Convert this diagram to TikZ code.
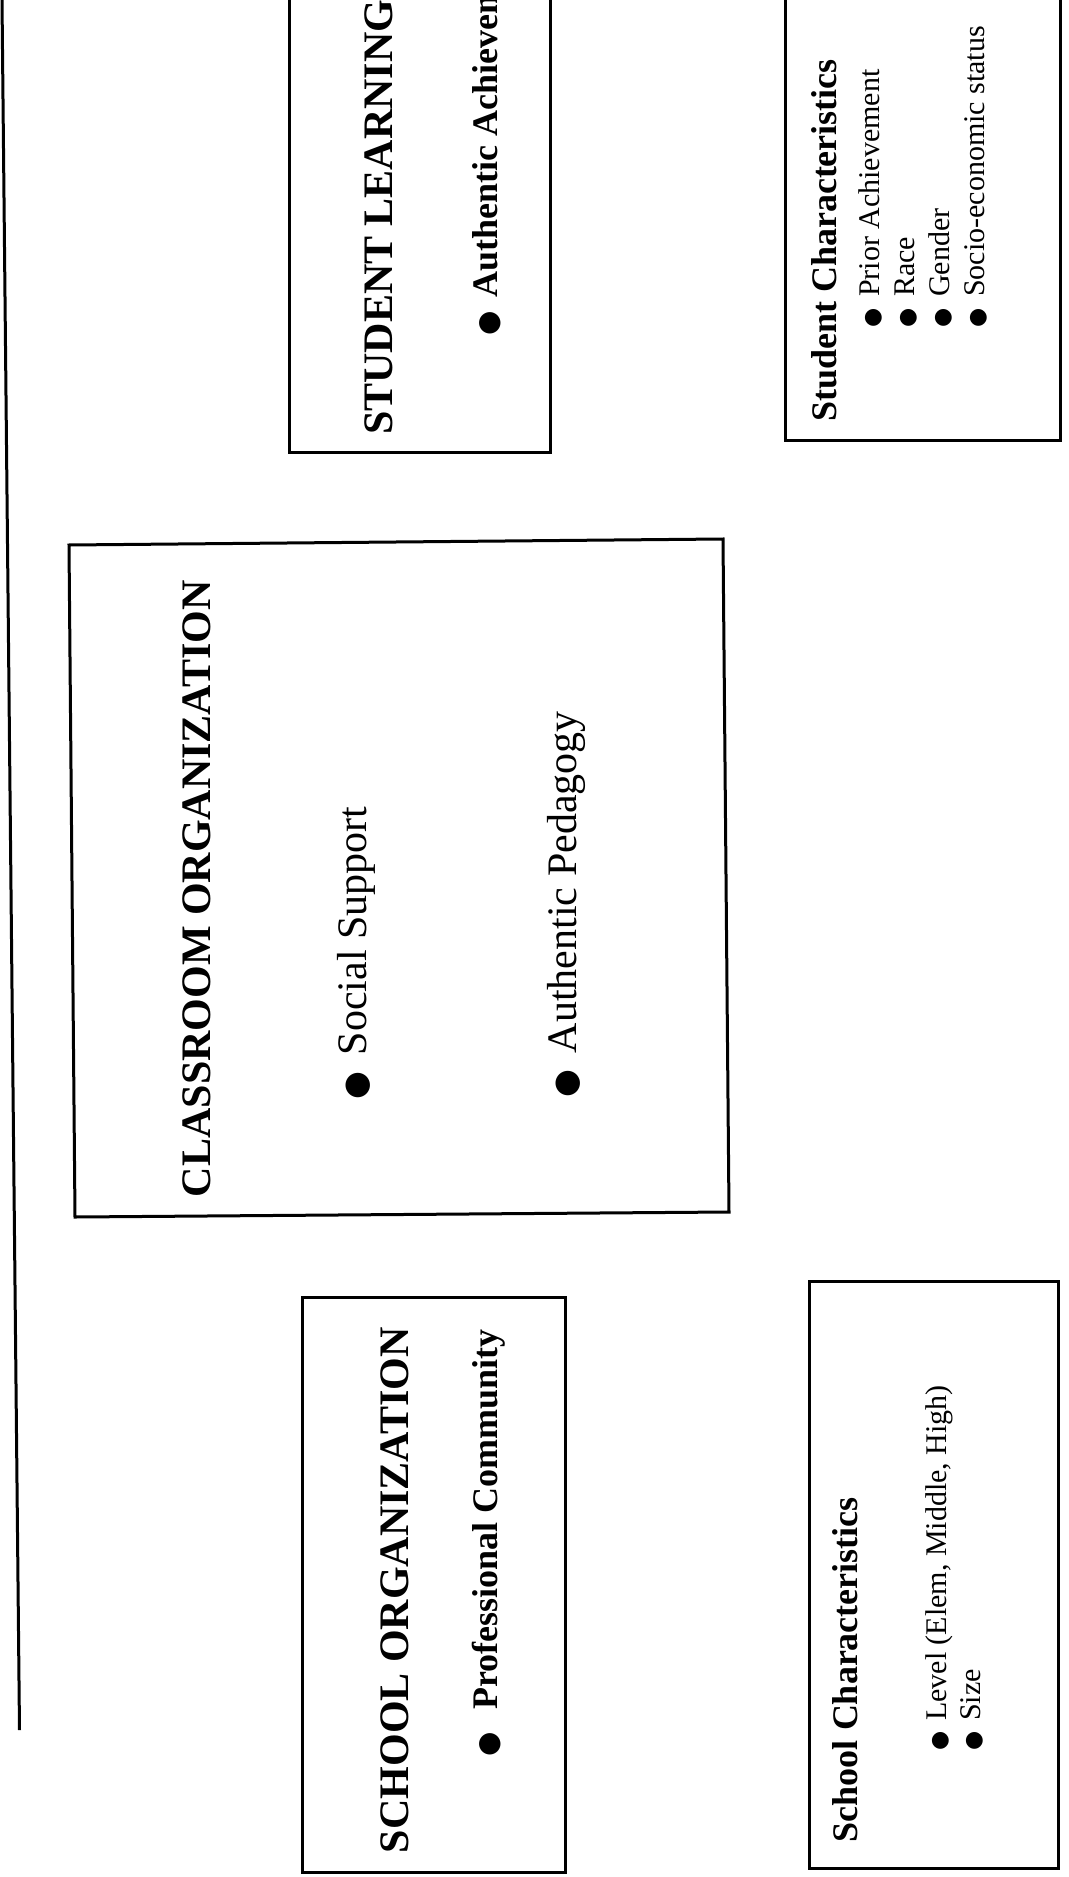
\documentclass[tikz,border=0pt]{standalone}
\usepackage{fontspec}
\setmainfont{Liberation Serif}
\newfontfamily\symf{DejaVu Sans}
\newcommand{\bul}[1]{{\symf\fontsize{#1}{#1}\selectfont ●}}
\tikzset{
  frame/.style={draw=black, line width=1.5pt},
  rt/.style={rotate=90, anchor=base west, inner sep=0pt, outer sep=0pt},
  ttl/.style={rt, font=\bfseries\fontsize{21}{25}\selectfont},
  bitem/.style={rt, font=\bfseries\fontsize{18}{21}\selectfont},
  ritem/.style={rt, font=\fontsize{21}{25}\selectfont},
  sttl/.style={rt, font=\bfseries\fontsize{18}{21}\selectfont},
  sitem/.style={rt, font=\fontsize{15}{18}\selectfont},
}
\begin{document}
\begin{tikzpicture}[x=0.5pt, y=-0.5pt]
\useasboundingbox (0,0) rectangle (1069,1877);
\clip (0,0) rectangle (1069,1877);
\fill[white] (0,0) rectangle (1069,1877);

% left rule
\coordinate (ltop) at (2,0);
\coordinate (lbot) at (19.5,1730);
\draw[line width=1.5pt] (ltop) -- (lbot);

% boxes
\draw[frame] (289,-10) rectangle (550,453);
\draw[frame] (785,-10) rectangle (1060,441);
\draw[frame] (69,545) -- (723,539) -- (729,1212) -- (75,1217) -- cycle;
\draw[frame] (302,1297) rectangle (565,1872);
\draw[frame] (809,1281) rectangle (1058,1868);

% student learning
\node[ttl] (slt) at (392,435) {STUDENT LEARNING};
\node[bitem] (sli) at (497,336) {\bul{14}\hspace{7pt}Authentic Achievement};

% student characteristics
\node[sttl] (sct) at (836,422) {Student Characteristics};
\node[sitem] (sc1) at (879,328) {\bul{11}\hspace{6pt}Prior Achievement};
\node[sitem] (sc2) at (914,328) {\bul{11}\hspace{6pt}Race};
\node[sitem] (sc3) at (949,328) {\bul{11}\hspace{6pt}Gender};
\node[sitem] (sc4) at (984,328) {\bul{11}\hspace{6pt}Socio-economic status};

% classroom organization
\node[ttl] (cot) at (210,1197) {CLASSROOM ORGANIZATION};
\node[ritem] (co1) at (366,1099) {\bul{16}\hspace{8pt}Social Support};
\node[ritem] (co2) at (576,1097) {\bul{16}\hspace{8pt}Authentic Pedagogy};

% school organization
\node[ttl] (sot) at (408,1853) {SCHOOL ORGANIZATION};
\node[bitem] (soi) at (497,1756) {\bul{14}\hspace{11pt}Professional Community};

% school characteristics
\node[sttl] (scht) at (857,1842) {School Characteristics};
\node[sitem] (sch1) at (946,1750) {\bul{11}\hspace{5pt}Level (Elem, Middle, High)};
\node[sitem] (sch2) at (980,1750) {\bul{11}\hspace{5pt}Size};
\end{tikzpicture}
\end{document}
